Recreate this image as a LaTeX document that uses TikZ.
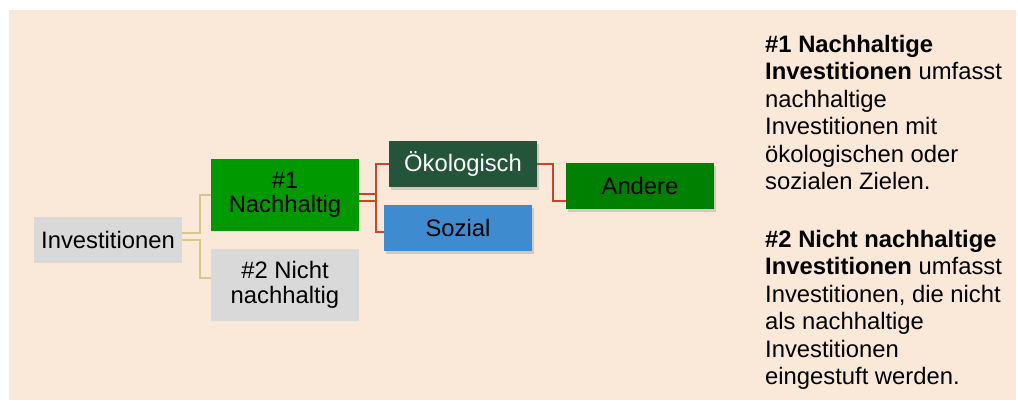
\documentclass[tikz,border=0pt]{standalone}
\usepackage{fontspec}
\setmainfont{Liberation Sans}
\usetikzlibrary{calc,shadows}
\definecolor{bgpeach}{HTML}{FAE8D8}
\definecolor{boxgray}{HTML}{D9D9D9}
\definecolor{nachgreen}{HTML}{009A00}
\definecolor{oekgreen}{HTML}{24553A}
\definecolor{sozblue}{HTML}{3F8BD0}
\definecolor{andgreen}{HTML}{008000}
\definecolor{goldline}{HTML}{D6C78C}
\definecolor{redline}{HTML}{C6472A}
\tikzset{
  box/.style={minimum width=148pt, inner sep=0pt, align=center,
    font=\fontsize{23.8}{24.5}\selectfont},
  lowbox/.style={box, minimum height=46pt},
  highbox/.style={box, minimum height=72pt},
  shade/.style={drop shadow={opacity=0.3, shadow xshift=2pt, shadow yshift=-3pt}},
  goldcon/.style={draw=goldline, line width=2pt},
  redcon/.style={draw=redline, line width=2pt},
  note/.style={anchor=north west, inner sep=0pt, align=left,
    font=\fontsize{23.8}{27.4}\selectfont}
}
\begin{document}
\begin{tikzpicture}[x=1pt,y=-1pt]
\useasboundingbox (0,0) rectangle (1018,403);
\fill[bgpeach] (9,10) rectangle (1016,400);

\node[lowbox, fill=boxgray] (inv) at (108,240) {Investitionen};
\node[highbox, fill=nachgreen] (n1) at (285,195) {\#1\\Nachhaltig};
\node[highbox, fill=boxgray] (n2) at (285,285) {\#2 Nicht\\nachhaltig};
\node[lowbox, shade, fill=oekgreen, text=white] (oek) at (463,164) {Ökologisch};
\node[lowbox, shade, fill=sozblue] (soz) at (458,228) {Sozial};
\node[lowbox, shade, fill=andgreen] (and) at (640,186) {Andere};

\draw[goldcon] ($(inv.east)+(0,-7)$) -- ++(18,0) |- (n1.west);
\draw[goldcon] (inv.east) -- ++(18,0) |- ($(n2.west)+(0,-7)$);

\draw[redcon] ($(n1.east)+(0,-1)$) -- ++(17,0);
\draw[redcon] ($(n1.east)+(0,6)$) -- ++(17,0);
\draw[redcon] (oek.west) -- ++(-13,0) |- ($(soz.west)+(0,4)$);
\draw[redcon] (oek.east) -- ++(16,0) |- ($(and.west)+(0,15)$);

\node[note] (t1) at (765,35) {\textbf{\#1 Nachhaltige}\\\textbf{Investitionen} umfasst\\nachhaltige\\Investitionen mit\\ökologischen oder\\sozialen Zielen.};
\node[note] (t2) at (765,230) {\textbf{\#2 Nicht nachhaltige}\\\textbf{Investitionen} umfasst\\Investitionen, die nicht\\als nachhaltige\\Investitionen\\eingestuft werden.};
\end{tikzpicture}
\end{document}
